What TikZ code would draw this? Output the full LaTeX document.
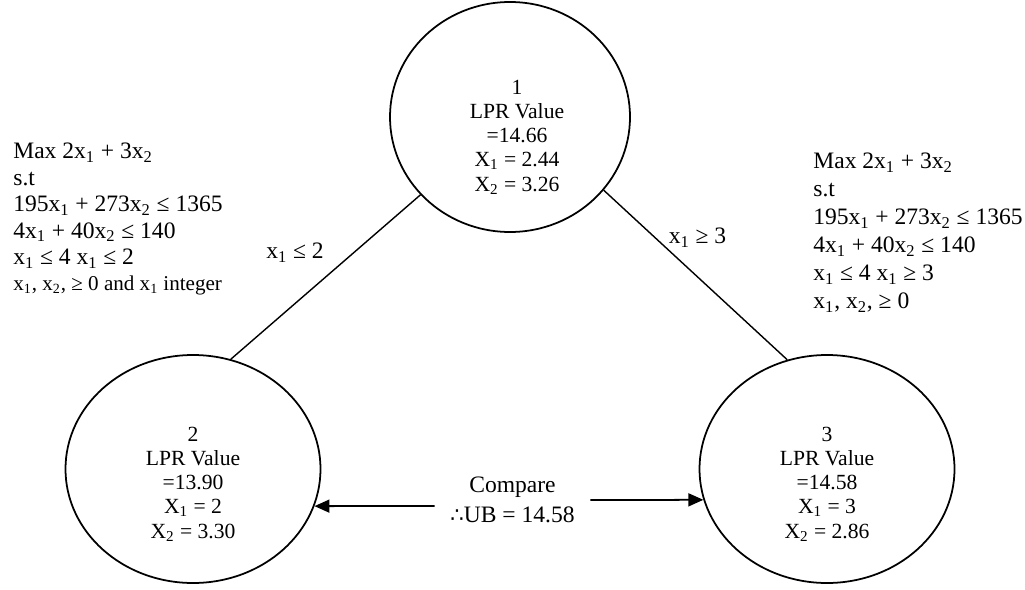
\documentclass[tikz,border=0pt]{standalone}
\usepackage{fontspec}
\setmainfont{Liberation Serif}
\newfontfamily\dvfont{DejaVu Sans}
\usetikzlibrary{arrows.meta,positioning,shapes.geometric}

\begin{document}
\begin{tikzpicture}[
    lpr/.style={draw,ellipse,line width=1pt,minimum width=5.1cm,minimum height=4.56cm,inner sep=0pt},
    lprtext/.style={align=center,inner sep=0pt,font=\fontsize{12.3}{13.8}\selectfont},
    model/.style={align=left,anchor=north west,inner sep=0pt,font=\fontsize{13.4}{15.0}\selectfont},
    branch/.style={inner sep=0pt,font=\fontsize{13.4}{14.8}\selectfont},
    arr/.style={-{Triangle[length=0.3cm,width=0.26cm]},line width=1pt}]
  \useasboundingbox (0,0) rectangle (20.5,-11.78);

  %% Nodes of the branch and bound tree
  \node[lpr,minimum width=4.8cm,minimum height=4.6cm] (n1) at (10.2,-2.34) {};
  \node[lpr] (n2) at (3.86,-9.38) {};
  \node[lpr] (n3) at (16.54,-9.38) {};

  \node[lprtext] (t1) at (10.34,-2.74) {1\\LPR Value\\=14.66\\X\textsubscript{1} = 2.44\\X\textsubscript{2} = 3.26};
  \node[lprtext] (t2) at (3.86,-9.68) {2\\LPR Value\\=13.90\\X\textsubscript{1} = 2\\X\textsubscript{2} = 3.30};
  \node[lprtext] (t3) at (16.54,-9.68) {3\\LPR Value\\=14.58\\X\textsubscript{1} = 3\\X\textsubscript{2} = 2.86};

  %% Branches
  \draw[line width=0.8pt] (n1.221) -- (n2.71);
  \draw[line width=0.8pt] (n1.322) -- (n3.110);
  \node[branch] (b1) at (5.9,-5.06) {x\textsubscript{1} ≤ 2};
  \node[branch] (b2) at (13.95,-4.76) {x\textsubscript{1} ≥ 3};

  %% Sub-problems
  \node[model] (m2) at (0.26,-2.86) {Max 2x\textsubscript{1} + 3x\textsubscript{2}\\s.t\\
    195x\textsubscript{1} + 273x\textsubscript{2} ≤ 1365\\4x\textsubscript{1} + 40x\textsubscript{2} ≤ 140\\
    x\textsubscript{1} ≤ 4 x\textsubscript{1} ≤ 2\\
    {\fontsize{12}{13}\selectfont x\textsubscript{1}, x\textsubscript{2}, ≥ 0 and x\textsubscript{1} integer}};
  \node[model,font=\fontsize{13.4}{15.9}\selectfont] (m3) at (16.26,-3.06) {Max 2x\textsubscript{1} + 3x\textsubscript{2}\\s.t\\
    195x\textsubscript{1} + 273x\textsubscript{2} ≤ 1365\\4x\textsubscript{1} + 40x\textsubscript{2} ≤ 140\\
    x\textsubscript{1} ≤ 4 x\textsubscript{1} ≥ 3\\x\textsubscript{1}, x\textsubscript{2}, ≥ 0};

  %% Comparison of the two bounds
  \node[align=center,inner xsep=0.31cm,font=\fontsize{13.4}{17}\selectfont] (cmp) at (10.25,-10.0)
    {Compare\\{\dvfont\fontsize{12}{17}\selectfont ∴}UB = 14.58};
  \draw[arr] ([yshift=-0.12cm]cmp.west) -- (n2.-17);
  \draw[arr] (cmp.east) -- (n3.194);
\end{tikzpicture}
\end{document}
